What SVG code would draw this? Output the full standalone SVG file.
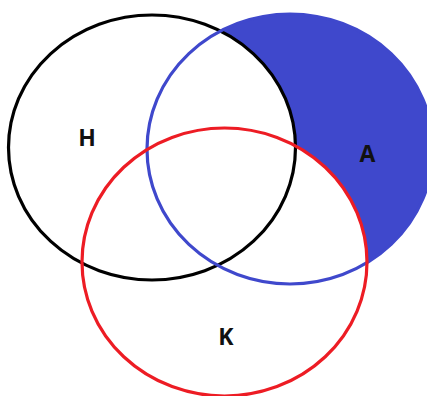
<svg xmlns="http://www.w3.org/2000/svg" width="427" height="396" viewBox="0 0 427 396">
<style>
.c{fill:none;stroke-width:3.2}
.lbl{font-family:"Open Sans","DejaVu Sans",sans-serif;font-weight:bold;font-size:23px;text-anchor:middle;fill:#111}
</style>
<defs>
<mask id="m" maskUnits="userSpaceOnUse" x="0" y="0" width="427" height="396">
<rect x="0" y="0" width="427" height="396" fill="#fff"/>
<ellipse cx="152" cy="147.5" rx="143.5" ry="132.5" fill="#000"/>
<ellipse cx="224.5" cy="262" rx="142.5" ry="134" fill="#000"/>
</mask>
</defs>
<rect width="427" height="396" fill="#fff"/>
<g id="fill-A-only">
<ellipse cx="290" cy="149" rx="143" ry="135" fill="#3F48CC" mask="url(#m)"/>
</g>
<g id="H">
<ellipse class="c" cx="152" cy="147.5" rx="143.5" ry="132.5" stroke="#000"/>
<text class="lbl" x="87" y="146">H</text>
</g>
<g id="A">
<ellipse class="c" cx="290" cy="149" rx="143" ry="135" stroke="#3F48CC"/>
<text class="lbl" x="367.5" y="162">A</text>
</g>
<g id="K">
<ellipse class="c" cx="224.5" cy="262" rx="142.5" ry="134" stroke="#ED1C24"/>
<text class="lbl" x="226" y="345">K</text>
</g>
<g id="connectors"/>
</svg>
